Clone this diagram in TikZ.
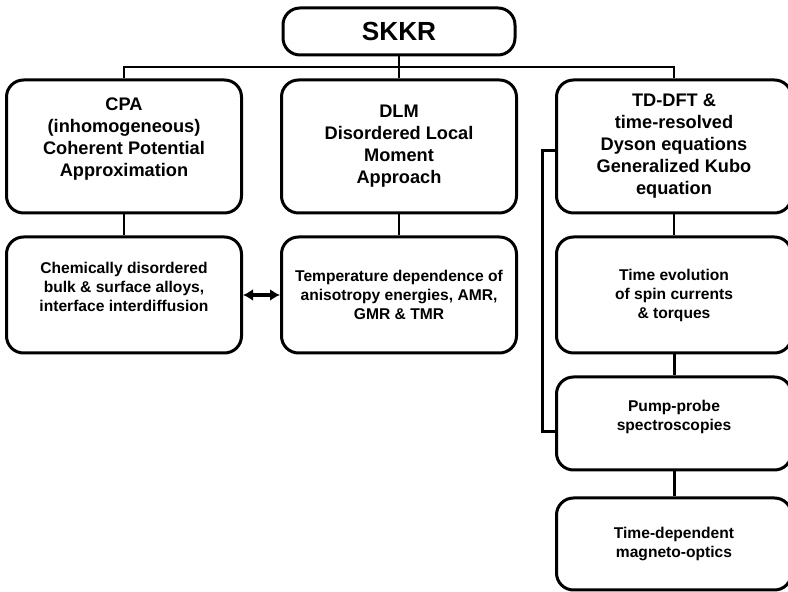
\documentclass[tikz,border=0pt]{standalone}
\usepackage{fontspec}
\setmainfont{Liberation Sans}
\usetikzlibrary{arrows.meta,positioning,calc}
\tikzset{
  box/.style    = {rectangle, rounded corners=8.5pt, draw=black, fill=white, line width=1.5pt,
                   align=center, inner sep=2pt, minimum width=117.5pt,
                   font=\bfseries\fontsize{9.1}{11}\selectfont},
  topbox/.style = {box, minimum width=116pt, minimum height=23.5pt,
                   font=\bfseries\fontsize{13.1}{15}\selectfont},
  headbox/.style= {box, minimum height=66.5pt},
  subbox/.style = {box, font=\bfseries\fontsize{7.8}{9.5}\selectfont},
  ln/.style     = {line width=1pt},
  lnk/.style    = {line width=1.5pt},
  dbl/.style    = {{Latex[length=5pt,width=6pt]}-{Latex[length=5pt,width=6pt]}, line width=1.6pt},
}
\begin{document}
\begin{tikzpicture}[node distance=10.5pt and 18.5pt]
\useasboundingbox (0,0) rectangle (394pt,-296pt);
% top
\node[topbox] (skkr) at (199.5pt,-15.75pt) {SKKR};
\node[headbox, below=11pt of skkr] (dlm) {DLM\\Disordered Local\\Moment\\Approach};
\node[headbox, left=of dlm, text depth=9pt] (cpa) {CPA\\(inhomogeneous)\\Coherent Potential\\Approximation};
\node[headbox, right=of dlm] (td) {TD-DFT \&\\time-resolved\\Dyson equations\\Generalized Kubo\\equation};
% second row
\node[subbox, below=of cpa, minimum height=58pt, text depth=8pt] (cpadis) {Chemically disordered\\bulk \& surface alloys,\\interface interdiffusion};
\node[subbox, below=of dlm, minimum height=58pt] (dlmtemp) {Temperature dependence of\\anisotropy energies, AMR,\\GMR \& TMR};
\node[subbox, below=of td, minimum height=58pt] (tevo) {Time evolution\\of spin currents\\\& torques};
\node[subbox, below=of tevo, minimum height=46.5pt, text depth=8pt] (pump) {Pump-probe\\spectroscopies};
\node[subbox, below=12.5pt of pump, minimum height=46pt] (tdep) {Time-dependent\\magneto-optics};
% connectors
\coordinate (bus) at ($(skkr.south)!0.5!(dlm.north)$);
\draw[ln] (skkr.south) -- (dlm.north);
\draw[ln] (cpa.north) |- (bus) -| (td.north);
\draw[ln] (cpa) -- (cpadis); \draw[ln] (dlm) -- (dlmtemp); \draw[ln] (td) -- (tevo);
\draw[lnk] (tevo) -- (pump); \draw[lnk] (pump) -- (tdep);
\draw[lnk] ([yshift=-2pt]td.west) -- ++(-6.5pt,0) |- ([yshift=-4pt]pump.west);
\draw[dbl] (cpadis) -- (dlmtemp);
\end{tikzpicture}
\end{document}
